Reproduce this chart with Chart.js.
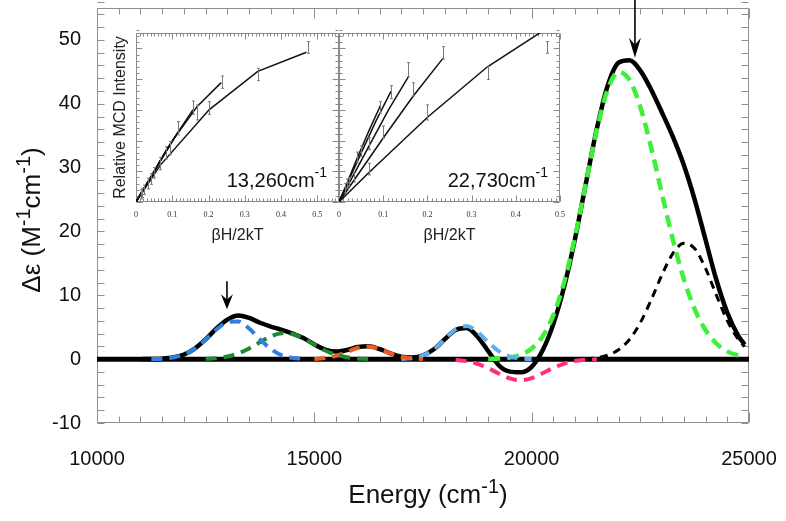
<!DOCTYPE html>
<html>
<head>
<meta charset="utf-8">
<script src="https://cdn.jsdelivr.net/npm/chart.js@4.4.0/dist/chart.umd.min.js"></script>
<style>
  html, body { margin: 0; padding: 0; background: #fff; }
  #wrap { position: relative; width: 786px; height: 521px; }
  #wrap canvas { position: absolute; }
  #main { left: 0; top: 0; }
  #inset1 { left: 100px; top: 25px; }
  #inset2 { left: 335px; top: 25px; }
</style>
</head>
<body>
<div id="wrap">
  <canvas id="main" width="786" height="521"></canvas>
  <canvas id="inset1" width="245" height="222"></canvas>
  <canvas id="inset2" width="232" height="222"></canvas>
</div>
<script>
// ----- main spectrum: energy grid (cm-1) -----
const energy = [11000, 11250, 11500, 11750, 12000, 12250, 12500, 12750, 13000, 13250,
  13500, 13750, 14000, 14250, 14500, 14750, 15000, 15250, 15500, 15750,
  16000, 16250, 16500, 16750, 17000, 17250, 17500, 17750, 18000, 18250,
  18500, 18750, 19000, 19250, 19500, 19750, 20000, 20250, 20500, 20750,
  21000, 21250, 21500, 21750, 22000, 22250, 22500, 22750, 23000, 23250,
  23500, 23750, 24000, 24250, 24500, 24750, 24900];

// measured MCD (solid black)
const totalMcd = [0.00, 0.02, 0.08, 0.26, 0.73, 1.65, 3.11, 4.81, 6.20, 6.85,
  6.45, 5.70, 5.10, 4.60, 4.00, 3.30, 2.30, 1.50, 1.18, 1.43,
  1.89, 2.02, 1.59, 0.91, 0.40, 0.27, 0.60, 1.55, 3.12, 4.55,
  4.87, 3.56, 1.26, -1.00, -1.95, -2.05, -1.20, 1.35, 5.53, 11.42,
  18.94, 27.62, 36.12, 42.87, 46.43, 46.81, 45.20, 42.20, 38.60, 34.80,
  30.40, 25.00, 18.70, 12.40, 7.30, 3.70, 2.30];

// gaussian components (dashed), each starting at the given grid energy
const blueFrom = 11250;
const blueBand = [0.02, 0.08, 0.26, 0.73, 1.65, 3.06, 4.65, 5.79, 5.91, 4.80, 3.10, 1.60, 0.60, 0.20, 0.05];
const darkGreenFrom = 12500;
const darkGreenBand = [0.05, 0.16, 0.41, 0.90, 1.67, 2.65, 3.56, 4.07, 3.95, 3.26, 2.29, 1.36, 0.69, 0.30, 0.11, 0.03];
const orangeFrom = 15000;
const orangeBand = [0.04, 0.17, 0.51, 1.13, 1.78, 1.99, 1.59, 0.91, 0.37, 0.11, 0.02];
const skyFrom = 17000;
const skyBand = [0.03, 0.16, 0.58, 1.55, 3.12, 4.66, 5.18, 4.29, 2.65, 1.21, 0.41, 0.11, 0.02];
const pinkFrom = 18250;
const pinkBand = [-0.11, -0.31, -0.73, -1.42, -2.28, -3.02, -3.30, -2.97, -2.21, -1.36, -0.69, -0.29, -0.10, -0.03];
const greenFrom = 19000;
const greenBand = [0.03, 0.09, 0.27, 0.70, 1.66, 3.56, 6.89, 12.11, 19.23, 27.65,
  35.93, 42.26, 44.97, 43.73, 39.50, 33.13, 25.81, 18.68, 12.56, 7.84,
  4.55, 2.45, 1.22, 0.57, 0.35];
const blackFrom = 21250;
const blackBand = [0.07, 0.22, 0.61, 1.46, 3.08, 5.72, 9.29, 13.25, 16.56, 18.15, 17.33, 14.22, 10.01, 6.05, 3.14, 1.97];

// zero line
const zeroX = [10000, 25000];
const zeroY = [0, 0];

// axis labels
const energyTicks = [10000, 15000, 20000, 25000];
const deltaTicks = [-10, 0, 10, 20, 30, 40, 50];

// arrows (energy, start, tip)
const arrowX = [12990, 22376];
const arrowFrom = [12.2, 56.3];
const arrowTo = [7.8, 47.2];

// ----- insets: beta H / 2kT for each temperature -----
const bh5K = [0, 0.0672, 0.2015, 0.3359, 0.4702];
const bh10K = [0, 0.0336, 0.1008, 0.1680, 0.2351];
const bh15K = [0, 0.0224, 0.0672, 0.1120, 0.1568];
const bh20K = [0, 0.0168, 0.0504, 0.0840, 0.1176];
const bh25K = [0, 0.0134, 0.0403, 0.0672, 0.0941];
const bhTicks = [0, 0.1, 0.2, 0.3, 0.4, 0.5];

// 13,260 cm-1 fits
const low5K = [0, 0.24, 0.60, 0.85, 0.975];
const low10K = [0, 0.13, 0.40, 0.62, 0.777];
const low15K = [0, 0.09, 0.27, 0.44, 0.60];
const low20K = [0, 0.07, 0.20, 0.34, 0.46];
const low25K = [0, 0.055, 0.16, 0.27, 0.37];
// 13,260 cm-1 data with error
const lowErrX = [0.475, 0.336, 0.236, 0.201, 0.169, 0.156, 0.116, 0.093, 0.084, 0.067, 0.05, 0.04, 0.034, 0.022, 0.017, 0.013];
const lowErrY = [1.006, 0.83, 0.78, 0.612, 0.583, 0.614, 0.48, 0.35, 0.32, 0.25, 0.19, 0.15, 0.12, 0.08, 0.06, 0.05];
const lowErrH = [0.038, 0.04, 0.04, 0.041, 0.049, 0.043, 0.043, 0.043, 0.04, 0.04, 0.035, 0.035, 0.035, 0.03, 0.03, 0.03];

// 22,730 cm-1 fits
const high5K = [0, 0.19, 0.555, 0.88, 1.13];
const high10K = [0, 0.14, 0.42, 0.69, 0.935];
const high15K = [0, 0.12, 0.36, 0.60, 0.815];
const high20K = [0, 0.11, 0.32, 0.53, 0.72];
const high25K = [0, 0.09, 0.28, 0.46, 0.63];
// 22,730 cm-1 data with error
const highErrX = [0.47, 0.336, 0.2, 0.235, 0.167, 0.156, 0.118, 0.1, 0.093, 0.067, 0.067, 0.05, 0.04, 0.034, 0.022, 0.017, 0.013];
const highErrY = [1.006, 0.84, 0.583, 0.97, 0.733, 0.861, 0.715, 0.455, 0.615, 0.214, 0.38, 0.33, 0.29, 0.16, 0.13, 0.12, 0.09];
const highErrH = [0.038, 0.043, 0.049, 0.041, 0.043, 0.046, 0.042, 0.04, 0.038, 0.038, 0.04, 0.035, 0.035, 0.03, 0.03, 0.03, 0.03];

const FONT = "'Liberation Sans', Arial, Helvetica, sans-serif";

const asPoints = (xs, ys) => ys.map((v, i) => ({ x: xs[i], y: v }));
const fromGrid = (start, ys) => {
  const i0 = energy.indexOf(start);
  return ys.map((v, i) => ({ x: energy[i0 + i], y: v }));
};
const fixedTicks = list => s => { s.ticks = list.map(v => ({ value: v })); };

// draws text pieces with superscripts, centred or right aligned at x
function drawRich(ctx, parts, x, y, align) {
  let w = 0;
  parts.forEach(p => { ctx.font = p.size + 'px ' + FONT; w += ctx.measureText(p.t).width; });
  let cx = align === 'right' ? x - w : x - w / 2;
  ctx.textAlign = 'left';
  ctx.textBaseline = 'alphabetic';
  parts.forEach(p => {
    ctx.font = p.size + 'px ' + FONT;
    ctx.fillText(p.t, cx, y - (p.rise || 0));
    cx += ctx.measureText(p.t).width;
  });
}

// frame with inward ticks on all four sides
const framePlugin = {
  id: 'frame',
  beforeDatasetsDraw(chart, args, o) {
    const { ctx, chartArea: a, scales } = chart;
    const sx = scales.x, sy = scales.y;
    ctx.save();
    ctx.strokeStyle = o.color;
    ctx.lineWidth = 1;
    ctx.beginPath();
    const L = Math.round(a.left) + 0.5, R = Math.round(a.right) - 0.5;
    const T = Math.round(a.top) + 0.5, B = Math.round(a.bottom) - 0.5;
    ctx.rect(L, T, R - L, B - T);
    const nx = Math.round((sx.max - sx.min) / o.xStep);
    for (let i = 0; i <= nx; i++) {
      const v = sx.min + i * o.xStep;
      const major = Math.abs(v / o.xMajor - Math.round(v / o.xMajor)) < 1e-6;
      const len = major ? o.xMajorLen : o.xLen;
      const px = Math.round(sx.getPixelForValue(v)) + 0.5;
      ctx.moveTo(px, B); ctx.lineTo(px, B - len);
      ctx.moveTo(px, T); ctx.lineTo(px, T + len);
    }
    const ny = Math.round((sy.max - sy.min) / o.yStep);
    for (let i = 0; i <= ny; i++) {
      const v = sy.min + i * o.yStep;
      const major = Math.abs(v / o.yMajor - Math.round(v / o.yMajor)) < 1e-6;
      const len = major ? o.yMajorLen : o.yLen;
      const py = Math.round(sy.getPixelForValue(v)) + 0.5;
      ctx.moveTo(L, py); ctx.lineTo(L + len, py);
      ctx.moveTo(R, py); ctx.lineTo(R - len, py);
    }
    ctx.stroke();
    ctx.restore();
  }
};

// downward arrows
const arrowPlugin = {
  id: 'arrows',
  afterDatasetsDraw(chart, args, o) {
    if (!o.x) return;
    const { ctx, scales: { x, y } } = chart;
    ctx.save();
    ctx.strokeStyle = '#000';
    ctx.fillStyle = '#000';
    ctx.lineWidth = 1.6;
    o.x.forEach((e, i) => {
      const px = x.getPixelForValue(e);
      const top = y.getPixelForValue(o.from[i]);
      const tip = y.getPixelForValue(o.to[i]);
      const L = o.headLen[i], W = 6;
      ctx.beginPath();
      ctx.moveTo(px, top);
      ctx.lineTo(px, tip - L * 0.6);
      ctx.stroke();
      ctx.beginPath();
      ctx.moveTo(px, tip);
      ctx.lineTo(px - W, tip - L);
      ctx.lineTo(px, tip - L * 0.65);
      ctx.lineTo(px + W, tip - L);
      ctx.closePath();
      ctx.fill();
    });
    ctx.restore();
  }
};

// vertical error bars for the insets
const errorPlugin = {
  id: 'errbars',
  afterDatasetsDraw(chart, args, o) {
    if (!o.x) return;
    const { ctx, scales: { x, y } } = chart;
    ctx.save();
    ctx.strokeStyle = '#7a7a7a';
    ctx.lineWidth = 1;
    ctx.beginPath();
    o.x.forEach((v, i) => {
      const px = Math.round(x.getPixelForValue(v)) + 0.5;
      const y1 = y.getPixelForValue(o.y[i] + o.h[i]);
      const y2 = y.getPixelForValue(o.y[i] - o.h[i]);
      ctx.moveTo(px, y1); ctx.lineTo(px, y2);
      ctx.moveTo(px - 1.5, y1); ctx.lineTo(px + 1.5, y1);
      ctx.moveTo(px - 1.5, y2); ctx.lineTo(px + 1.5, y2);
    });
    ctx.stroke();
    ctx.restore();
  }
};

// texts with superscripts
const labelPlugin = {
  id: 'richText',
  afterDraw(chart, args, o) {
    const { ctx, chartArea: a } = chart;
    ctx.save();
    ctx.fillStyle = '#111';
    if (o.mode === 'main') {
      drawRich(ctx, [{ t: 'Energy (cm', size: 26 }, { t: '-1', size: 20, rise: 10 }, { t: ')', size: 26 }],
        (a.left + a.right) / 2 + 5, 503, 'center');
      ctx.translate(40, 220);
      ctx.rotate(-Math.PI / 2);
      drawRich(ctx, [{ t: '\u0394\u03b5 (M', size: 26 }, { t: '-1', size: 20, rise: 10 }, { t: 'cm', size: 26 },
        { t: '-1', size: 20, rise: 10 }, { t: ')', size: 26 }], 0, 0, 'center');
    } else {
      drawRich(ctx, [{ t: o.text, size: 20 }, { t: '-1', size: 14, rise: 10 }],
        a.right - 12, a.bottom - 15, 'right');
    }
    ctx.restore();
  }
};

Chart.register(framePlugin, arrowPlugin, errorPlugin, labelPlugin);

const bandStyle = (color, width, dash) => ({
  borderColor: color, borderWidth: width, borderDash: dash, borderCapStyle: 'butt',
  pointRadius: 0, cubicInterpolationMode: 'monotone', fill: false
});

// ----- main chart -----
new Chart(document.getElementById('main').getContext('2d'), {
  type: 'line',
  data: {
    datasets: [
      { label: 'blue', data: fromGrid(blueFrom, blueBand), ...bandStyle('#2f7fe4', 4, [11, 7]) },
      { label: 'dark green', data: fromGrid(darkGreenFrom, darkGreenBand), ...bandStyle('#1f8a2a', 4, [11, 7]) },
      { label: 'orange', data: fromGrid(orangeFrom, orangeBand), ...bandStyle('#ef5a20', 4, [11, 7]) },
      { label: 'sky', data: fromGrid(skyFrom, skyBand), ...bandStyle('#5eb0ec', 4, [11, 7]) },
      { label: 'pink', data: fromGrid(pinkFrom, pinkBand), ...bandStyle('#ff2f78', 4, [11, 7]) },
      { label: 'green', data: fromGrid(greenFrom, greenBand), ...bandStyle('#3ef03a', 4.5, [12, 7]) },
      { label: 'black', data: fromGrid(blackFrom, blackBand), ...bandStyle('#000', 3, [8, 6]) },
      { label: 'total', data: asPoints(energy, totalMcd), ...bandStyle('#000', 4.5, []) },
      { label: 'zero', data: asPoints(zeroX, zeroY), borderColor: '#000', borderWidth: 5, pointRadius: 0 }
    ]
  },
  options: {
    responsive: false,
    animation: false,
    devicePixelRatio: 1,
    layout: { padding: { left: 0, right: 37, top: 8, bottom: 0 } },
    plugins: {
      legend: { display: false },
      tooltip: { enabled: false },
      frame: { color: '#8f8f8f', xStep: 500, xMajor: 5000, xLen: 6, xMajorLen: 10, yStep: 2, yMajor: 10, yLen: 7, yMajorLen: 7 },
      arrows: { x: arrowX, from: arrowFrom, to: arrowTo, headLen: [15, 20] },
      richText: { mode: 'main' }
    },
    scales: {
      x: {
        type: 'linear', min: 10000, max: 25000,
        grid: { display: false, drawTicks: false }, border: { display: false },
        ticks: { padding: 24, color: '#111', maxRotation: 0, autoSkip: false,
          font: { family: FONT, size: 20 }, callback: v => String(v) },
        afterBuildTicks: fixedTicks(energyTicks),
        afterFit: s => { s.height = 98; s.paddingLeft = 0; s.paddingRight = 0; }
      },
      y: {
        min: -10, max: 55,
        grid: { display: false, drawTicks: false }, border: { display: false },
        ticks: { padding: 16, color: '#111', autoSkip: false, font: { family: FONT, size: 20 }, callback: v => String(v) },
        afterBuildTicks: fixedTicks(deltaTicks),
        afterFit: s => { s.width = 97; s.paddingTop = 0; s.paddingBottom = 0; }
      }
    }
  }
});

// ----- insets -----
const lineStyle = { borderColor: '#111', borderWidth: 1.5, pointRadius: 0, tension: 0, fill: false };

function insetChart(id, max, lines, err, text, showYTitle) {
  return new Chart(document.getElementById(id).getContext('2d'), {
    type: 'line',
    data: { datasets: lines.map(([xs, ys], i) => ({ label: 'T' + i, data: asPoints(xs, ys), ...lineStyle })) },
    options: {
      responsive: false,
      animation: false,
      devicePixelRatio: 1,
      layout: { padding: showYTitle ? { left: 0, right: 6, top: 8, bottom: 0 } : { left: 4, right: 7, top: 8, bottom: 0 } },
      plugins: {
        legend: { display: false },
        tooltip: { enabled: false },
        frame: { color: '#8a8a8a', xStep: 0.01, xMajor: 0.1, xLen: 3, xMajorLen: 6, yStep: 0.04, yMajor: 0.2, yLen: 3, yMajorLen: 6 },
        errbars: err,
        richText: { mode: 'inset', text: text }
      },
      scales: {
        x: {
          type: 'linear', min: 0, max: max,
          grid: { display: false, drawTicks: false }, border: { display: false },
          ticks: { padding: 8, color: '#333', maxRotation: 0, autoSkip: false,
            font: { family: "'Liberation Serif', 'Times New Roman', serif", size: 8 },
            callback: v => (v === 0 ? '0' : v.toFixed(1)) },
          afterBuildTicks: fixedTicks(bhTicks),
          title: { display: true, text: '\u03b2H/2kT', color: '#222', font: { family: FONT, size: 16 }, padding: { top: 0, bottom: 2 } },
          afterFit: s => { s.height = 45; s.paddingLeft = 0; s.paddingRight = 0; }
        },
        y: {
          display: showYTitle, min: 0, max: 1.1,
          grid: { display: false, drawTicks: false }, border: { display: false },
          ticks: { display: false },
          title: { display: showYTitle, text: 'Relative MCD Intensity', color: '#222', font: { family: FONT, size: 16 }, padding: { top: 11, bottom: 0 } },
          afterFit: s => { s.width = showYTitle ? 36 : 0; s.paddingTop = 0; s.paddingBottom = 0; }
        }
      }
    }
  });
}

insetChart('inset1', 0.56,
  [[bh5K, low5K], [bh10K, low10K], [bh15K, low15K], [bh20K, low20K], [bh25K, low25K]],
  { x: lowErrX, y: lowErrY, h: lowErrH }, '13,260cm', true);

insetChart('inset2', 0.5,
  [[bh5K, high5K], [bh10K, high10K], [bh15K, high15K], [bh20K, high20K], [bh25K, high25K]],
  { x: highErrX, y: highErrY, h: highErrH }, '22,730cm', false);
</script>
</body>
</html>
